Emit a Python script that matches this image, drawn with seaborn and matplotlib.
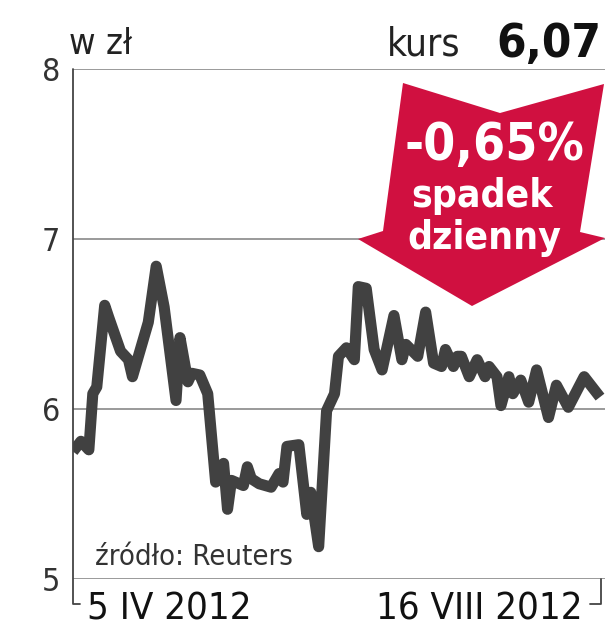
import pandas as pd
import matplotlib
matplotlib.use("Agg")
import matplotlib.pyplot as plt
from matplotlib.lines import Line2D
from matplotlib.patches import Polygon
import seaborn as sns

# kurs akcji, dni kalendarzowe od 5 IV 2012
days = [0, 2, 4, 5, 6, 8, 9, 12, 14, 15,
        19, 21, 23, 26, 27, 29, 30, 32, 34, 36,
        38, 39, 40, 43, 44, 45, 47, 50, 52, 53,
        54, 57, 59, 60, 62, 64, 66, 67, 69, 71,
        72, 74, 76, 78, 81, 83, 84, 87, 89, 91,
        93, 94, 96, 97, 98, 100, 102, 104, 105, 107,
        108, 110, 111, 113, 115, 117, 120, 122, 125, 129,
        133]
price = [5.75, 5.81, 5.76, 6.09, 6.13, 6.61, 6.54, 6.34, 6.29, 6.19,
         6.51, 6.84, 6.60, 6.05, 6.42, 6.16, 6.21, 6.20, 6.09, 5.57,
         5.68, 5.41, 5.58, 5.55, 5.66, 5.59, 5.56, 5.54, 5.62, 5.57,
         5.78, 5.79, 5.38, 5.51, 5.19, 5.99, 6.09, 6.31, 6.36, 6.29,
         6.72, 6.71, 6.35, 6.23, 6.55, 6.29, 6.38, 6.31, 6.57, 6.27,
         6.25, 6.35, 6.25, 6.31, 6.31, 6.19, 6.29, 6.19, 6.25, 6.19,
         6.02, 6.19, 6.09, 6.17, 6.04, 6.23, 5.95, 6.14, 6.01, 6.19,
         6.07]
yticks = [5, 6, 7, 8]
date_labels = ["5 IV 2012", "16 VIII 2012"]
kurs = "6,07"
zmiana = "-0,65%"

W, H = 605, 640
df = pd.DataFrame({"day": days, "price": price})

sns.set_style("white")
plt.rcParams["font.family"] = ["DejaVu Sans"]
plt.rcParams["font.stretch"] = "condensed"

fig = plt.figure(figsize=(W / 100, H / 100), dpi=100)


def px(x, y):
    return x / W, 1 - y / H


ax = fig.add_axes([73 / W, 1 - 579 / H, (605 - 73) / W, (579 - 69) / H])
ax.set_xlim(0, 133 * (605 - 73) / (600 - 73))
ax.set_ylim(5, 8)
for v in yticks:
    ax.axhline(v, color="#9a9a9a", lw=1.4, zorder=1)
sns.lineplot(data=df, x="day", y="price", ax=ax, color="#414141", lw=8,
             zorder=3, solid_joinstyle="round", solid_capstyle="butt")
ax.set_xticks([])
ax.set_yticks(yticks)
ax.set_yticklabels([str(v) for v in yticks], fontsize=23, color="#333333",
                   fontweight="light")
ax.tick_params(axis="y", length=0, pad=9)
ax.set_xlabel("")
ax.set_ylabel("")
for s in ax.spines.values():
    s.set_visible(False)

# ramka osi (nawiasy na dole)
fig.add_artist(Line2D(*zip(px(73, 69), px(73, 604), px(80, 604)),
                      color="#444444", lw=1.3))
fig.add_artist(Line2D(*zip(px(601, 579), px(601, 604), px(590, 604)),
                      color="#444444", lw=1.3))

# strzałka
arrow_pts = [px(403, 83), px(500, 113), px(604, 84), px(580, 232),
             px(605, 238), px(472, 306), px(358, 239), px(383, 231)]
fig.add_artist(Polygon(arrow_pts, closed=True, facecolor="#d01040",
                       edgecolor="none", transform=fig.transFigure, zorder=5))
fig.text(*px(494, 146), zmiana, fontsize=37, fontweight="bold", color="white",
         ha="center", va="center", zorder=6)
fig.text(*px(482, 196), "spadek", fontsize=28, fontweight="bold",
         color="white", ha="center", va="center", zorder=6)
fig.text(*px(484, 238), "dzienny", fontsize=28, fontweight="bold",
         color="white", ha="center", va="center", zorder=6)

fig.text(*px(69, 44), "w zł", fontsize=26, color="#222222",
         ha="left", va="center")
fig.text(*px(461, 44), "kurs", fontsize=28, color="#222222",
         ha="right", va="center")
fig.text(*px(601, 44), kurs, fontsize=34, fontweight="bold", color="#111111",
         ha="right", va="center")
fig.text(*px(95, 557), "źródło: Reuters", fontsize=21, color="#333333",
         ha="left", va="center")
fig.text(*px(87, 609), date_labels[0], fontsize=27.5, color="#111111",
         ha="left", va="center")
fig.text(*px(583, 609), date_labels[1], fontsize=27.5, color="#111111",
         ha="right", va="center")

fig.savefig("out.png", dpi=100)
